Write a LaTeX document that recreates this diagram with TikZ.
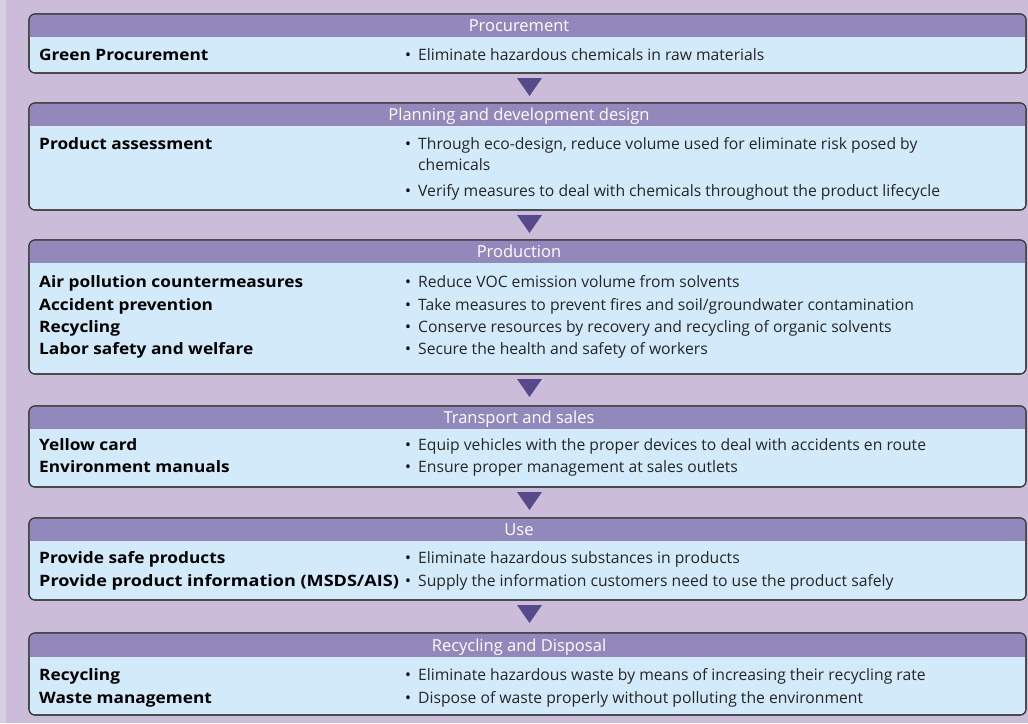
\documentclass[tikz,border=0pt]{standalone}
\usepackage{fontspec}
\setmainfont{Open Sans}
\newfontfamily\lblfont[FakeStretch=1.1]{Open Sans}
\definecolor{bgc}{HTML}{CBBDDA}
\definecolor{stripc}{HTML}{D8CFE5}
\definecolor{hdrc}{HTML}{9388BC}
\definecolor{bodyc}{HTML}{D2EAFA}
\definecolor{edgec}{HTML}{383838}
\definecolor{tric}{HTML}{574A8A}
\tikzset{
  boxshape/.style={rectangle, draw=edgec, line width=1.1pt, fill=bodyc, rounded corners=6pt,
    inner sep=0pt, outer sep=0pt, minimum width=997pt, anchor=north west},
  edge/.style={draw=edgec, line width=1.1pt, rounded corners=6pt},
  hdrtext/.style={text=white, font=\fontsize{16.5}{18}\selectfont, inner sep=0pt, anchor=base},
  lbl/.style={font=\lblfont\fontsize{15.7}{18}\selectfont\bfseries, inner sep=0pt, anchor=base west},
  txt/.style={font=\fontsize{15.7}{18}\selectfont, text=black!85, inner sep=0pt, anchor=base west},
  bul/.style={font=\fontsize{15.7}{18}\selectfont, inner sep=0pt, anchor=base},
  tri/.style={fill=tric},
}
\newcommand\stagebox[5]{%
  \node[boxshape, minimum height={(#4-#2)*1pt}] (#1) at (29,#2) {};
  \begin{scope}
    \clip[rounded corners=6pt] (#1.north west) rectangle (#1.south east);
    \fill[hdrc] (29,#2) rectangle (1026,#3);
  \end{scope}
  \draw[edge] (#1.north west) rectangle (#1.south east);
  \node[hdrtext] (#1-t) at (519,{(#2+#3)/2+6}) {#5};
}
\newcommand\entry[4]{% name, y, label, text
  \node[lbl] (#1-l) at (39,#2+5.5) {#3};
  \node[bul] (#1-b) at (408,#2+5.5) {•};
  \node[txt] (#1-x) at (418,#2+5.5) {#4};
}
\newcommand\more[3]{% name, y, text
  \node[txt] (#1) at (418,#2+5.5) {#3};
}
\newcommand\marker[2]{% name, previous box
  \path (#2.south) ++(2,5) coordinate (#1);
  \fill[tri] (#1) ++(-12.5,0) -- ++(25,0) -- ++(-12.5,18) -- cycle;
}
\begin{document}
\begin{tikzpicture}[x=1pt,y=-1pt]
\useasboundingbox (0,0) rectangle (1028,723);
\fill[bgc] (0,0) rectangle (1028,723);
\fill[stripc] (0,0) rectangle (6,723);

\stagebox{b1}{14}{37}{73}{Procurement}
\entry{e11}{55}{Green Procurement}{Eliminate hazardous chemicals in raw materials}

\stagebox{b2}{103}{126}{210}{Planning and development design}
\entry{e21}{144}{Product assessment}{Through eco-design, reduce volume used for eliminate risk posed by}
\more{e21m}{165}{chemicals}
\node[bul] (e22-b) at (408,196.5) {•};
\more{e22}{191}{Verify measures to deal with chemicals throughout the product lifecycle}

\stagebox{b3}{240}{263}{374}{Production}
\entry{e31}{282}{Air pollution countermeasures}{Reduce VOC emission volume from solvents}
\entry{e32}{305}{Accident prevention}{Take measures to prevent fires and soil/groundwater contamination}
\entry{e33}{327}{Recycling}{Conserve resources by recovery and recycling of organic solvents}
\entry{e34}{349}{Labor safety and welfare}{Secure the health and safety of workers}

\stagebox{b4}{406}{429}{487}{Transport and sales}
\entry{e41}{445}{Yellow card}{Equip vehicles with the proper devices to deal with accidents en route}
\entry{e42}{467}{Environment manuals}{Ensure proper management at sales outlets}

\stagebox{b5}{518}{541}{600}{Use}
\entry{e51}{558}{Provide safe products}{Eliminate hazardous substances in products}
\entry{e52}{581}{\scalebox{1.045}[1]{Provide product information (MSDS/AIS)}}{Supply the information customers need to use the product safely}

\stagebox{b6}{633}{657}{715}{Recycling and Disposal}
\entry{e61}{675}{Recycling}{Eliminate hazardous waste by means of increasing their recycling rate}
\entry{e62}{698}{Waste management}{Dispose of waste properly without polluting the environment}

\marker{m1}{b1}
\marker{m2}{b2}
\marker{m3}{b3}
\marker{m4}{b4}
\marker{m5}{b5}
\end{tikzpicture}
\end{document}
